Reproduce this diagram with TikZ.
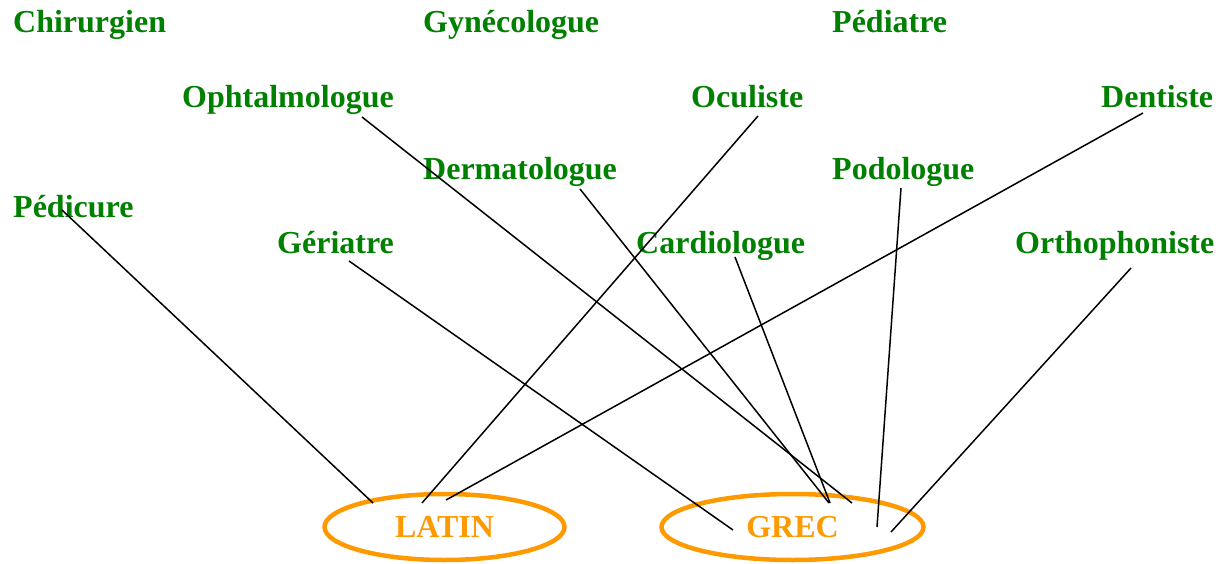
\documentclass[tikz,border=0pt]{standalone}
\usepackage{fontspec}
\setmainfont{Liberation Serif}
\definecolor{lblgreen}{HTML}{008000}
\definecolor{rootorange}{HTML}{FF9900}
\tikzset{
  word/.style={anchor=base west, inner sep=0pt, text=lblgreen, font=\bfseries\fontsize{32}{38}\selectfont},
  root/.style={ellipse, draw=rootorange, line width=4.5pt, text=rootorange, font=\bfseries\fontsize{32}{38}\selectfont, minimum width=#1, minimum height=66pt, inner sep=0pt},
  link/.style={draw=black, line width=1.5pt}
}
\usetikzlibrary{shapes.geometric}
\begin{document}
\begin{tikzpicture}[x=1pt,y=-1pt]
\useasboundingbox (0,0) rectangle (1226,564);
% labels
\node[word] (chi) at (13,33) {Chirurgien};
\node[word] (gyn) at (423,33) {Gynécologue};
\node[word] (pedia) at (832,33) {Pédiatre};
\node[word] (oph) at (182,108) {Ophtalmologue};
\node[word] (ocu) at (691,108) {Oculiste};
\node[word] (den) at (1101,108) {Dentiste};
\node[word] (der) at (423,180) {Dermatologue};
\node[word] (pod) at (832,180) {Podologue};
\node[word] (pedi) at (13,218) {Pédicure};
\node[word] (ger) at (277,254) {Gériatre};
\node[word] (car) at (636,254) {Cardiologue};
\node[word] (ort) at (1015,254) {Orthophoniste};
% roots
\node[root=240pt] (latin) at (444.5,527) {LATIN};
\node[root=262pt] (grec) at (792.5,527) {GREC};
% connector endpoints
\coordinate (pediS) at (62,210);   \coordinate (pediE) at (373,503);
\coordinate (ocuS) at (758,116);   \coordinate (ocuE) at (422,503);
\coordinate (denS) at (1143,113);  \coordinate (denE) at (446,500);
\coordinate (ophS) at (362,117);   \coordinate (ophE) at (852,503);
\coordinate (derS) at (580,189);   \coordinate (derE) at (829,503);
\coordinate (carS) at (735,257);   \coordinate (carE) at (830,503);
\coordinate (gerS) at (349,261);   \coordinate (gerE) at (733,530);
\coordinate (podS) at (901,188);   \coordinate (podE) at (877,527);
\coordinate (ortS) at (1131,268);  \coordinate (ortE) at (891,532);
% connectors
\draw[link] (pediS) -- (pediE);
\draw[link] (ocuS) -- (ocuE);
\draw[link] (denS) -- (denE);
\draw[link] (ophS) -- (ophE);
\draw[link] (derS) -- (derE);
\draw[link] (carS) -- (carE);
\draw[link] (gerS) -- (gerE);
\draw[link] (podS) -- (podE);
\draw[link] (ortS) -- (ortE);
\end{tikzpicture}
\end{document}
